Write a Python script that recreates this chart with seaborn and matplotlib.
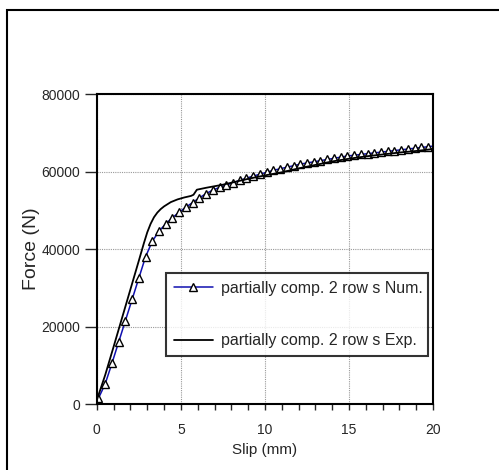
import numpy as np
import pandas as pd
import seaborn as sns
import matplotlib
matplotlib.use("Agg")
import matplotlib.pyplot as plt
from matplotlib.patches import Rectangle
from matplotlib.ticker import MultipleLocator

# numerical curve (blue line with triangles)
num_slip = [0.1, 0.5, 0.9, 1.3, 1.7, 2.1, 2.5, 2.9, 3.3, 3.7, 4.1, 4.5, 4.9, 5.3, 5.7,
            6.1, 6.5, 6.9, 7.3, 7.7, 8.1, 8.5, 8.9, 9.3, 9.7, 10.1, 10.5, 10.9, 11.3,
            11.7, 12.1, 12.5, 12.9, 13.3, 13.7, 14.1, 14.5, 14.9, 15.3, 15.7, 16.1,
            16.5, 16.9, 17.3, 17.7, 18.1, 18.5, 18.9, 19.3, 19.7, 20.1]
num_force = [1500, 5200, 10500, 16000, 21500, 27000, 32500, 38000, 42000, 44600, 46500,
             48100, 49500, 50800, 52000, 53200, 54300, 55200, 55900, 56500, 57100, 57700,
             58300, 58800, 59300, 59800, 60300, 60700, 61100, 61500, 61900, 62200, 62500,
             62800, 63100, 63400, 63700, 64000, 64200, 64400, 64600, 64800, 65000, 65200,
             65400, 65600, 65800, 66000, 66200, 66400, 66600]

# experimental curve (black line)
exp_slip = [0.0, 0.5, 1.0, 1.5, 2.0, 2.5, 2.8, 3.0, 3.2, 3.4, 3.6, 3.8, 4.0, 4.4, 4.8,
            5.2, 5.6, 5.75, 5.95, 6.5, 7.0, 7.5, 8.0, 9.0, 10.0, 11.0, 12.0, 13.0, 14.0,
            15.0, 16.0, 17.0, 18.0, 19.0, 20.2]
exp_force = [1000, 7500, 14800, 22200, 29600, 37000, 41500, 44300, 46500, 48200, 49400,
             50300, 51000, 52100, 52800, 53300, 53700, 54000, 55300, 55800, 56200, 56600,
             57100, 58100, 59000, 59800, 60800, 61700, 62600, 63300, 63900, 64400, 64900,
             65300, 65900]

labels = ["partially comp. 2 row s Num.", "partially comp. 2 row s Exp."]

sns.set_style("white")
plt.rcParams['font.family'] = ['Liberation Sans', 'DejaVu Sans']

fig = plt.figure(figsize=(4.99, 4.70), dpi=100)
ax = fig.add_axes([0.194, 0.1404, 0.674, 0.6596])

# outer frame around the whole picture
fig.patches.append(Rectangle((0.014, -0.05), 1.05, 1.029, transform=fig.transFigure,
                             fill=False, edgecolor='black', linewidth=1.5))

num_df = pd.DataFrame({'slip': num_slip, 'force': num_force})
exp_df = pd.DataFrame({'slip': exp_slip, 'force': exp_force})

sns.lineplot(data=num_df, x='slip', y='force', ax=ax, color='#1010b0', linewidth=1.1,
             marker='^', markersize=6, markerfacecolor='white', markeredgecolor='black',
             markeredgewidth=1.0, estimator=None, sort=False, label=labels[0])
sns.lineplot(data=exp_df, x='slip', y='force', ax=ax, color='black', linewidth=1.3,
             estimator=None, sort=False, label=labels[1])

ax.set_xlim(0, 20)
ax.set_ylim(0, 80000)
ax.xaxis.set_major_locator(MultipleLocator(5))
ax.xaxis.set_minor_locator(MultipleLocator(1))
ax.yaxis.set_major_locator(MultipleLocator(20000))

ax.grid(True, which='major', color='#999999', linestyle=(0, (1, 1)), linewidth=0.8)
for s in ax.spines.values():
    s.set_color('black')
    s.set_linewidth(1.5)

ax.tick_params(axis='x', which='both', direction='out', length=4, width=1, bottom=True,
               labelsize=10, pad=10)
ax.tick_params(axis='y', which='major', direction='out', length=9, width=1, left=True,
               labelsize=10, pad=3)

ax.set_xlabel('Slip (mm)', fontsize=11, labelpad=4)
ax.set_ylabel('Force (N)', fontsize=14, labelpad=1)

leg = ax.legend(loc='center', bbox_to_anchor=(0.205, 0.148, 0.78, 0.281), mode='expand',
                borderaxespad=0, fontsize=11.5, frameon=True, fancybox=False,
                handlelength=2.45, labelspacing=2.35, borderpad=0.5, handletextpad=0.5)
leg.get_frame().set_edgecolor('black')
leg.get_frame().set_linewidth(1.5)

fig.savefig('out.png', dpi=100)
